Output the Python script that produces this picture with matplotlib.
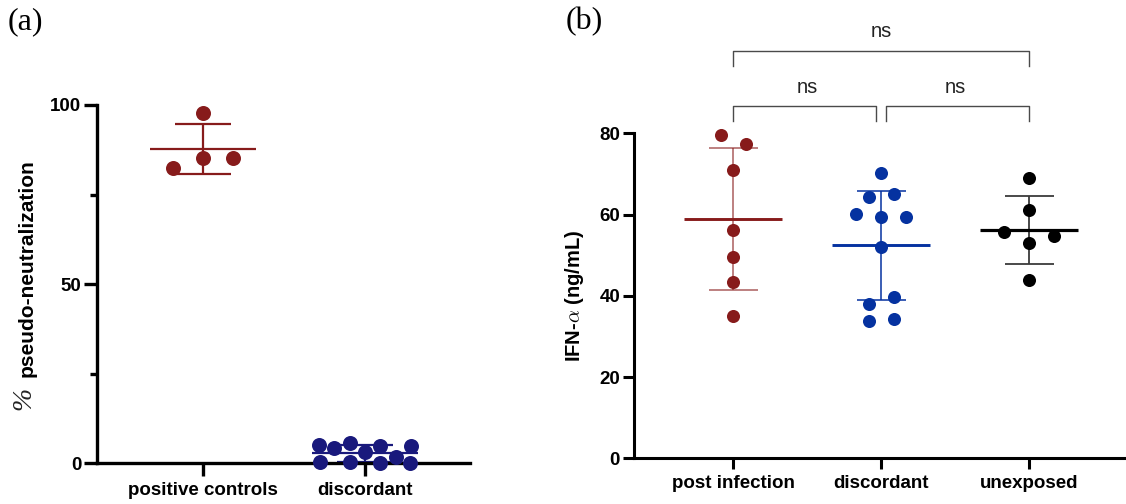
import numpy as np
import matplotlib
matplotlib.use("Agg")
import matplotlib.pyplot as plt

plt.rcParams["font.family"] = ["Liberation Sans", "DejaVu Sans"]
plt.rcParams["mathtext.fontset"] = "cm"

# panel (a) data
a_groups = ["positive controls", "discordant"]
a_positive = [97.9, 82.5, 85.3, 85.3]
a_discordant = [5.1, 4.4, 5.75, 3.2, 4.8, 1.7, 4.8, 0.45, 0.45, 0.0, 0.0]
a_yticks = [0, 50, 100]
a_minor = [25, 75]

# panel (b) data
b_groups = ["post infection", "discordant", "unexposed"]
b_post = [79.6, 77.35, 70.9, 56.2, 49.5, 43.3, 35.0]
b_discordant = [70.25, 64.3, 65.15, 60.2, 59.4, 59.4, 51.9, 38.1, 39.7, 33.8, 34.4]
b_unexposed = [68.9, 61.2, 55.6, 53.0, 54.8, 43.9]
b_yticks = [0, 20, 40, 60, 80]
b_tests = [(0, 2, "ns"), (0, 1, "ns"), (1, 2, "ns")]

RED = "#871b1b"
NAVY = "#19197c"
BLUE = "#0532a0"


def swarm(values, y_gap, step, max_width):
    # points close in value share a row, spread symmetrically around the centre
    rows = []
    for i, v in enumerate(values):
        if rows:
            cur = [values[j] for j in rows[-1]] + [v]
            if max(cur) - min(cur) <= y_gap:
                rows[-1].append(i)
                continue
        rows.append([i])
    offs = np.zeros(len(values))
    for row in rows:
        n = len(row)
        if n > 1:
            gap = min(step, max_width / (n - 1))
            for k, i in enumerate(row):
                offs[i] = (k - (n - 1) / 2) * gap
    return offs


def draw_group(ax, x, values, color, ms, mean_half, cap_half, err_lw, mean_lw,
               err_color=None, err_alpha=1.0, step_px=25, width_px=90, gap_px=16):
    vals = np.array(values, dtype=float)
    t = ax.transData
    px_x = t.transform((1, 0))[0] - t.transform((0, 0))[0]
    px_y = t.transform((0, 1))[1] - t.transform((0, 0))[1]
    offs = swarm(list(vals), gap_px / px_y, step_px / px_x, width_px / px_x)
    m = vals.mean()
    sd = vals.std(ddof=1)
    ec = err_color or color
    ax.plot([x, x], [m - sd, m + sd], color=ec, lw=err_lw, alpha=err_alpha,
            zorder=2, clip_on=False, solid_capstyle="butt")
    for yy in (m - sd, m + sd):
        ax.plot([x - cap_half, x + cap_half], [yy, yy], color=ec, lw=err_lw,
                alpha=err_alpha, zorder=2, clip_on=False, solid_capstyle="butt")
    ax.plot([x - mean_half, x + mean_half], [m, m], color=color, lw=mean_lw,
            zorder=2, clip_on=False, solid_capstyle="butt")
    ax.plot(x + offs, vals, "o", ms=ms, color=color, mec="none", zorder=3,
            clip_on=False)


def style_axes(ax, lw, ticklen):
    for s in ["top", "right"]:
        ax.spines[s].set_visible(False)
    for s in ["left", "bottom"]:
        ax.spines[s].set_linewidth(lw)
    ax.tick_params(axis="both", which="major", length=ticklen, width=lw,
                   labelsize=13.5, pad=2)
    ax.tick_params(axis="x", pad=4)
    for lbl in ax.get_xticklabels() + ax.get_yticklabels():
        lbl.set_fontweight("bold")


fig = plt.figure(figsize=(11.26, 5.04), dpi=100)

# ---- panel (a)
ax1 = fig.add_axes([97 / 1126, 40.7 / 504, 373 / 1126, 358.3 / 504])
ax1.set_xlim(-0.654, 1.648)
ax1.set_ylim(0, 100)
ax1.set_xticks(range(len(a_groups)), a_groups)
ax1.set_yticks(a_yticks)
ax1.set_yticks(a_minor, minor=True)
style_axes(ax1, 2.4, 9.4)
ax1.tick_params(axis="y", which="minor", length=5, width=2.4)
ax1.set_ylabel("pseudo-neutralization", fontsize=15, fontweight="bold")
ax1.yaxis.set_label_coords(-0.161, 0.546)
ax1.text(-0.163, 0.18, "%", transform=ax1.transAxes, rotation=90,
         rotation_mode="anchor", ha="center", va="bottom",
         family="Liberation Serif", style="italic", fontsize=20, color="#222222")

draw_group(ax1, 0, a_positive, RED, 10.8, 0.327, 0.17, 1.6, 1.6,
           step_px=30, width_px=92)
draw_group(ax1, 1, a_discordant, NAVY, 10.8, 0.327, 0.17, 1.6, 1.6,
           step_px=30, width_px=92)

# ---- panel (b)
ax2 = fig.add_axes([634 / 1126, 45.7 / 504, 490 / 1126, 325 / 504])
ax2.set_xlim(-0.672, 2.64)
ax2.set_ylim(0, 80)
ax2.set_xticks(range(len(b_groups)), b_groups)
ax2.set_yticks(b_yticks)
style_axes(ax2, 2.2, 8)
ax2.set_ylabel(r"IFN-$\alpha$ (ng/mL)", fontsize=14.5, fontweight="bold")
ax2.yaxis.set_label_coords(-0.098, 0.5)

draw_group(ax2, 0, b_post, RED, 9.4, 0.331, 0.167, 1.1, 2.1, err_alpha=0.7)
draw_group(ax2, 1, b_discordant, BLUE, 9.4, 0.331, 0.167, 1.1, 2.1)
draw_group(ax2, 2, b_unexposed, "black", 9.4, 0.331, 0.167, 1.3, 2.3,
           err_color="#3a3a3a")

# significance brackets
for i, j, txt in b_tests:
    if j - i > 1:
        top, drop, ty = 100.2, 3.7, 103.6
        x0, x1 = i, j
    else:
        top, drop, ty = 86.6, 3.5, 89.9
        x0 = i + (0.034 if i > 0 else 0)
        x1 = j - (0.034 if j < len(b_groups) - 1 else 0)
    ax2.plot([x0, x0, x1, x1], [top - drop, top, top, top - drop], color="#4a4a4a",
             lw=1.0, clip_on=False)
    ax2.text((i + j) / 2, ty, txt, ha="center", va="baseline", fontsize=14.5,
             color="#222222", clip_on=False)

fig.text(8 / 1126, 1 - 22 / 504, "(a)", family="Liberation Serif", fontsize=23,
         va="center", ha="left")
fig.text(566 / 1126, 1 - 22 / 504, "(b)", family="Liberation Serif", fontsize=23,
         va="center", ha="left")

fig.savefig("out.png", dpi=100)
